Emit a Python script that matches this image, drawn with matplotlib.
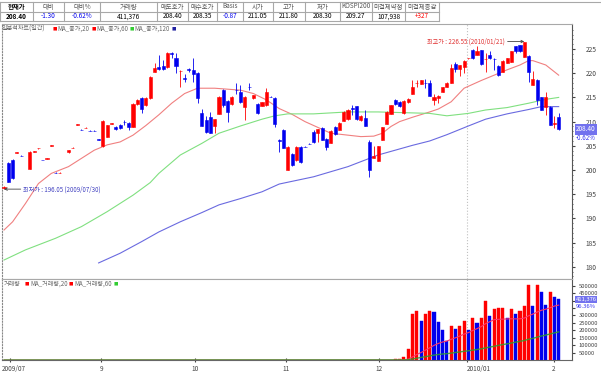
import matplotlib
matplotlib.use('Agg')
import matplotlib.pyplot as plt
from matplotlib.lines import Line2D
from matplotlib.transforms import blended_transform_factory, ScaledTranslation
import numpy as np
import pandas as pd

plt.rcParams['font.family'] = ['Noto Sans CJK KR', 'DejaVu Sans']

# ---------------- data ----------------
head_labels = ['현재가', '대비', '대비%', '거래량', '매도호가', '매수호가', 'Basis',
               '시가', '고가', '저가', 'KOSPI200', '미결제약정', '미결제증감']
head_values = ['208.40', '-1.30', '-0.62%', '411,376', '208.40', '208.35', '-0.87',
               '211.05', '211.80', '208.30', '209.27', '107,938', '+327']

# daily candles, one entry per trading day (None = no trade)
opens = [196.30, 201.50, 202.00, 203.55, 202.95, None, 200.30, 203.75, 204.45, 202.10,
         202.35, 205.05, 199.45, 199.35, None, 203.70, 204.55, 209.35, 208.35, 208.65,
         208.15, 208.15, 206.35, 204.90, 206.90, 209.55, 208.90, 209.30, 210.00, 209.80,
         208.90, 213.60, 214.80, 213.40, 214.80, 220.30, 221.30, 221.50, 221.20, 224.15,
         223.10, 220.45, 218.95, 220.85, 220.60, 220.10, 211.80, 210.30, 210.90, 209.10,
         211.60, 216.50, 214.20, 213.60, 216.55, 216.20, 213.10, 217.15, 214.80, 213.60,
         213.30, 213.40, 215.15, 214.80, 206.10, 208.20, 200.00, 203.30, 202.00, 204.80,
         204.85, 205.45, 207.90, 207.60, 208.60, 206.50, 205.60, 208.90, 208.30, 210.20,
         210.50, 212.75, 213.20, 210.30, 210.70, 205.80, 202.50, 201.90, 206.30, 209.60,
         211.60, 214.50, 214.10, 211.80, 214.00, 215.80, 217.95, 217.80, 218.05, 218.00,
         214.50, 214.80, 216.20, 217.20, 218.00, 221.90, 220.80, 221.30, 223.05, 224.90,
         223.80, 224.80, 222.85, 223.80, 222.95, 221.50, 220.30, 222.20, 222.40, 225.60,
         225.80, 223.40, 223.60, 217.60, 218.70, 215.00, 213.10, 213.10, 209.55, 211.05]
highs = [196.60, 201.70, 202.20, 203.70, 203.00, None, 203.90, 203.90, 204.60, 202.15,
         202.50, 205.20, 199.50, 199.50, None, 204.20, 204.70, 209.50, 208.40, 208.80,
         208.20, 208.20, 206.40, 210.40, 209.40, 209.70, 209.00, 209.50, 210.40, 210.00,
         213.80, 214.70, 215.00, 215.00, 219.50, 222.20, 223.80, 222.70, 224.30, 224.40,
         224.10, 220.70, 219.90, 221.00, 223.10, 220.30, 212.70, 211.10, 212.00, 210.60,
         215.20, 216.70, 214.40, 215.20, 217.90, 217.50, 215.20, 217.90, 215.60, 213.80,
         214.10, 216.90, 215.30, 215.00, 206.50, 208.40, 204.90, 203.50, 204.90, 205.00,
         205.00, 205.60, 208.20, 208.50, 208.80, 206.70, 208.20, 209.10, 209.90, 212.10,
         212.60, 213.40, 213.30, 211.30, 212.40, 206.30, 205.00, 205.00, 208.90, 212.10,
         213.50, 214.60, 214.20, 214.40, 214.80, 218.60, 218.60, 218.60, 218.90, 218.70,
         215.80, 215.50, 217.20, 218.10, 222.00, 222.40, 221.80, 222.70, 223.20, 225.00,
         225.60, 224.90, 224.10, 224.50, 223.10, 221.60, 222.70, 223.20, 224.60, 225.70,
         225.90, 226.55, 223.70, 220.50, 218.80, 215.10, 216.20, 213.20, 211.10, 211.80]
lows = [196.05, 197.50, 198.20, 203.50, 202.80, None, 200.20, 203.70, 204.40, 202.00,
        202.30, 205.00, 199.35, 199.30, None, 203.60, 204.50, 209.30, 208.20, 208.60,
        208.00, 208.00, 206.20, 204.80, 206.80, 209.50, 208.30, 208.40, 209.30, 208.30,
        208.80, 213.50, 211.70, 213.30, 214.70, 220.20, 220.60, 220.70, 221.10, 223.10,
        220.00, 217.20, 218.20, 220.30, 218.20, 213.80, 209.00, 207.70, 207.60, 207.70,
        211.50, 213.00, 210.00, 213.50, 215.80, 213.80, 210.30, 216.50, 214.70, 211.50,
        213.20, 213.30, 215.00, 208.90, 203.80, 204.50, 199.90, 200.80, 201.90, 201.50,
        204.70, 205.30, 205.50, 205.80, 206.20, 204.10, 205.50, 207.30, 208.20, 210.10,
        210.40, 211.40, 210.40, 210.20, 209.00, 198.60, 202.40, 201.80, 206.20, 209.50,
        211.50, 213.50, 213.10, 211.60, 213.90, 215.70, 217.20, 217.70, 216.90, 215.20,
        213.40, 213.80, 216.10, 217.10, 217.90, 220.30, 219.40, 220.00, 223.00, 223.00,
        223.70, 221.70, 220.30, 223.00, 220.70, 219.50, 220.20, 222.10, 222.30, 224.10,
        224.40, 223.30, 218.20, 217.50, 213.40, 212.40, 211.40, 209.20, 208.60, 208.30]
closes = [196.55, 197.60, 198.30, 203.65, 202.85, None, 203.80, 203.85, 204.55, 202.00,
          202.45, 205.15, 199.35, 199.45, None, 204.10, 204.65, 209.45, 208.25, 208.75,
          208.05, 208.05, 206.25, 210.20, 209.30, 209.65, 208.40, 208.60, 209.90, 208.80,
          213.60, 214.50, 212.70, 214.80, 219.30, 221.00, 220.80, 220.80, 224.20, 224.05,
          221.50, 220.55, 218.85, 220.75, 219.80, 214.80, 209.10, 207.90, 207.70, 210.50,
          215.00, 213.40, 212.00, 215.00, 216.45, 214.10, 215.10, 217.05, 215.50, 211.70,
          214.00, 216.20, 215.05, 209.60, 205.95, 204.60, 204.80, 201.00, 204.80, 201.70,
          204.75, 205.35, 205.80, 208.40, 206.30, 204.80, 208.10, 207.40, 209.80, 212.00,
          212.50, 212.65, 210.50, 211.20, 209.10, 200.10, 202.90, 204.90, 208.80, 212.00,
          213.40, 213.60, 213.20, 214.30, 214.70, 217.20, 218.05, 218.50, 217.95, 215.30,
          215.00, 215.30, 217.10, 218.00, 221.10, 220.80, 221.70, 222.60, 223.15, 223.10,
          224.50, 222.00, 222.95, 223.10, 222.85, 219.60, 222.60, 223.10, 224.50, 224.50,
          224.50, 226.50, 220.30, 218.90, 214.50, 212.50, 215.00, 209.30, 209.65, 208.40]

# volume per day (the contract barely traded before December)
volume = [0] * 91 + [5000, 6000, 23000, 72500, 310000, 328000, 261000, 310000, 328000, 323000,
                     254000, 204000, 126000, 231000, 211000, 231000, 261000, 200000, 283000, 251000,
                     281000, 399000, 298000, 343000, 350000, 350000, 281000, 343000, 310000, 332000,
                     361000, 503000, 361000, 503000, 455000, 372000, 455000, 424000, 411376]

# moving averages of the close at some days
ma20_day = [0, 2, 5, 8, 11, 15, 18, 21, 24, 27, 30, 33, 36, 39, 42, 45, 49, 52, 55, 58, 61, 64,
            67, 70, 73, 76, 80, 83, 86, 88, 90, 92, 95, 99, 101, 104, 107, 111, 114, 117, 120,
            122, 123, 126, 129]
ma20_val = [187.6, 189.3, 193.1, 197.2, 199.3, 200.7, 202.4, 204.1, 205.2, 205.8, 207.2, 209.2,
            211.4, 213.8, 215.8, 216.9, 216.9, 216.7, 216.5, 215.8, 214.5, 212.7, 211.5, 210.0,
            208.8, 207.6, 207.2, 206.9, 207.0, 207.6, 209.0, 210.0, 210.9, 212.0, 212.6, 214.1,
            216.9, 218.5, 219.6, 220.7, 221.7, 222.6, 222.6, 221.7, 219.6]
ma60_day = [0, 5, 12, 18, 24, 30, 34, 36, 41, 46, 50, 55, 60, 63, 66, 72, 80, 87, 95, 99, 103,
            108, 112, 117, 122, 126, 129]
ma60_val = [181.4, 183.5, 185.9, 188.3, 191.4, 194.8, 197.4, 199.3, 203.1, 205.5, 207.6, 209.1,
            210.5, 211.2, 211.6, 211.6, 212.0, 212.0, 211.8, 211.7, 211.2, 211.7, 212.4, 212.9,
            213.8, 214.6, 215.0]
ma120_day = [22, 27, 32, 36, 41, 46, 50, 55, 60, 64, 72, 80, 87, 95, 99, 103, 108, 112, 117, 122,
             125, 129]
ma120_val = [180.8, 182.8, 185.2, 187.2, 189.3, 191.2, 192.8, 194.1, 195.5, 197.1, 198.6, 200.7,
             203.1, 205.1, 206.0, 207.3, 209.1, 210.5, 211.6, 212.5, 213.1, 213.1]

month_pos = [1.4, 22.6, 44.4, 65.6, 87.2, 107.6, 127.9]
month_labels = ['2009/07', '9', '10', '11', '12', '2010/01', '2']

low_day, low_price, low_text = 0, 196.05, '최저가 : 196.05 (2009/07/30)'
high_day, high_price, high_text = 121, 226.55, '최고가 : 226.55 (2010/01/21)'
last_price, last_change = 208.40, '-0.62%'
last_volume, volume_ratio = 411376, '96.36%'

RED = '#ff0000'
BLUE = '#0000ee'
W, H = 601, 376


def fx(px):
    return px / W


def fy(py):
    return 1 - py / H


def main():
    fig = plt.figure(figsize=(W / 100, H / 100), dpi=100)
    fig.patch.set_facecolor('white')

    # ---------- header table ----------
    bounds = [0, 33, 64, 100, 157, 188, 217, 243, 273, 305, 340, 372, 405, 439]
    gray = '#a8a8a8'
    fig.add_artist(Line2D([0, 1], [fy(1.5), fy(1.5)], color=gray, lw=0.8))
    for yy in [11.5, 21]:
        fig.add_artist(Line2D([0, fx(439)], [fy(yy), fy(yy)], color=gray, lw=0.8))
    for b in bounds:
        fig.add_artist(Line2D([fx(b), fx(b)], [fy(1.5), fy(21)], color=gray, lw=0.8))
    for k in range(len(head_labels)):
        cx = fx((bounds[k] + bounds[k + 1]) / 2)
        bold = 'bold' if k == 0 else 'normal'
        fig.text(cx, fy(6.5), head_labels[k], ha='center', va='center', fontsize=4.6,
                 color='black' if k == 0 else '#555555', fontweight=bold)
        val = head_values[k]
        col = 'black'
        if val.startswith('-'):
            col = BLUE
        elif val.startswith('+'):
            col = RED
        fig.text(cx, fy(16.3), val, ha='center', va='center', fontsize=4.6, color=col,
                 fontweight=bold)

    # ---------- price panel ----------
    ax = fig.add_axes([fx(2), fy(279), fx(572) - fx(2), fy(24) - fy(279)])
    days = np.arange(len(opens))
    o = np.array(opens, dtype=float)
    h = np.array(highs, dtype=float)
    l = np.array(lows, dtype=float)
    c = np.array(closes, dtype=float)
    ok = ~np.isnan(o)
    up = c >= o
    cols = np.where(up, RED, BLUE)

    ax.plot(ma20_day, ma20_val, color='#f08080', lw=0.8, zorder=1)
    ax.plot(ma60_day, ma60_val, color='#80e080', lw=0.8, zorder=1)
    ax.plot(ma120_day, ma120_val, color='#6a6ae0', lw=0.8, zorder=1)

    ax.vlines(days[ok], l[ok], h[ok], colors=cols[ok], lw=0.6, zorder=2)
    body_lo = np.minimum(o, c)
    body_h = np.maximum(np.abs(c - o), 0.08)
    ax.bar(days[ok], body_h[ok], bottom=body_lo[ok], width=0.72, color=cols[ok],
           edgecolor=cols[ok], lw=0.4, zorder=3)

    ax.axvline(month_pos[5], color='#c0c0c0', ls=':', lw=0.8, zorder=0)

    ax.set_xlim(-0.47, 132.1)
    ax.set_ylim(177.48, 230.17)
    ax.set_xticks([])
    ax.yaxis.tick_right()
    ax.set_yticks(np.arange(180, 226, 5))
    ax.set_yticks(np.arange(178, 230, 1), minor=True)
    ax.tick_params(axis='y', which='major', length=2, pad=8, labelsize=4.8,
                   colors='#444444')
    ax.tick_params(axis='y', which='minor', length=1, colors='#444444')
    for s in ['top', 'bottom']:
        ax.spines[s].set_color('#a8a8a8')
        ax.spines[s].set_linewidth(0.8)
    ax.spines['right'].set_color('#555555')
    ax.spines['right'].set_linewidth(0.8)
    ax.spines['left'].set_color('#888888')
    ax.spines['left'].set_linestyle(':')

    # legend line at the top left
    def legend_row(items, yy):
        for xx, txt, col in items:
            if txt == '■':
                fig.text(fx(xx), fy(yy), txt, ha='left', va='center', fontsize=3.2, color=col)
            else:
                fig.text(fx(xx), fy(yy), txt, ha='left', va='center', fontsize=4.4,
                         color='#666666')

    legend_row([(2, '일분석차트(일간)', None), (52.5, '■', RED), (57, 'MA_종가,20', None),
                (91.5, '■', RED), (96.5, 'MA_종가,60', None), (129.5, '■', '#33cc33'),
                (134.5, 'MA_종가,120', None), (171.5, '■', '#2020a0')], 28.5)

    # lowest / highest annotations
    ax.annotate(low_text, xy=(low_day, low_price), xytext=(14, 0), textcoords='offset points',
                ha='left', va='center', fontsize=4.4, color='#4040c0',
                arrowprops=dict(arrowstyle='->', color='#444444', lw=0.6,
                                shrinkA=0, shrinkB=0))
    ax.annotate(high_text, xy=(high_day, high_price), xytext=(-14, 0),
                textcoords='offset points', ha='right', va='center', fontsize=4.4,
                color='#e03030',
                arrowprops=dict(arrowstyle='->', color='#444444', lw=0.6,
                                shrinkA=0, shrinkB=0))

    # current price tag on the right
    tr = blended_transform_factory(ax.transAxes, ax.transData)
    tag_x = (586 - 2) / 570
    ax.text(tag_x, last_price, '%.2f' % last_price, transform=tr, ha='center', va='center',
            fontsize=4.6, color='white', clip_on=False,
            bbox=dict(boxstyle='square,pad=0.2', fc='#7272ee', ec='none'))
    ax.text(tag_x, last_price - 1.8, last_change, transform=tr, ha='center', va='center',
            fontsize=4.4, color='#3333ee', clip_on=False)

    # ---------- volume panel ----------
    axv = fig.add_axes([fx(2), fy(360), fx(572) - fx(2), fy(279) - fy(360)])
    vol = np.array(volume, dtype=float)
    prev = np.concatenate([[0], vol[:-1]])
    vcols = np.where(vol >= prev, RED, BLUE)
    has = vol > 0
    axv.bar(days[has], vol[has], width=0.72, color=vcols[has], edgecolor=vcols[has],
            lw=0.3, zorder=2)

    vma20 = pd.Series(vol).rolling(20, min_periods=1).mean()
    vma60 = pd.Series(vol).rolling(60, min_periods=1).mean()
    axv.plot(days, vma20, color='#ff3366', lw=0.8, zorder=3)
    axv.plot(days, vma60, color='#2ca02c', lw=1.0, alpha=0.85, zorder=4)

    axv.axvline(month_pos[5], color='#c0c0c0', ls=':', lw=0.8, zorder=0)

    axv.set_xlim(-0.47, 132.1)
    axv.set_ylim(0, 545000)
    axv.yaxis.tick_right()
    vticks = list(range(50000, 500001, 50000))
    axv.set_yticks(vticks)
    # the two labels under the volume tag are hidden in the original
    axv.set_yticklabels(['' if v in (350000, 400000) else str(v) for v in vticks])
    axv.tick_params(axis='y', length=2, pad=3, labelsize=4.2, colors='#444444')
    axv.set_xticks(month_pos)
    axv.set_xticklabels(month_labels)
    axv.tick_params(axis='x', direction='inout', length=3, pad=2, labelsize=4.6,
                    colors='#444444')
    for lab in axv.get_xticklabels():
        if lab.get_text() == '2009/07':
            lab.set_ha('left')
            lab.set_transform(lab.get_transform() + ScaledTranslation(-0.08, 0, fig.dpi_scale_trans))
        elif lab.get_text() == '2010/01':
            lab.set_ha('left')
    axv.spines['top'].set_color('#a8a8a8')
    axv.spines['bottom'].set_color('#666666')
    axv.spines['right'].set_color('#555555')
    axv.spines['right'].set_linewidth(0.8)
    axv.spines['left'].set_color('#888888')
    axv.spines['left'].set_linestyle(':')

    legend_row([(4, '거래량', None), (24.5, '■', RED), (30, 'MA_거래량,20', None),
                (68.5, '■', RED), (74, 'MA_거래량,60', None), (113.5, '■', '#33cc33')], 284)

    trv = blended_transform_factory(axv.transAxes, axv.transData)
    axv.text(tag_x, last_volume - 6000, '{:,}'.format(last_volume), transform=trv, ha='center',
             va='center', fontsize=4.2, color='white', clip_on=False,
             bbox=dict(boxstyle='square,pad=0.15', fc='#7272ee', ec='none'))
    axv.text(tag_x, last_volume - 50000, volume_ratio, transform=trv, ha='center',
             va='center', fontsize=4.2, color='#3333ee', clip_on=False)

    fig.savefig('out.png', dpi=100)


main()
